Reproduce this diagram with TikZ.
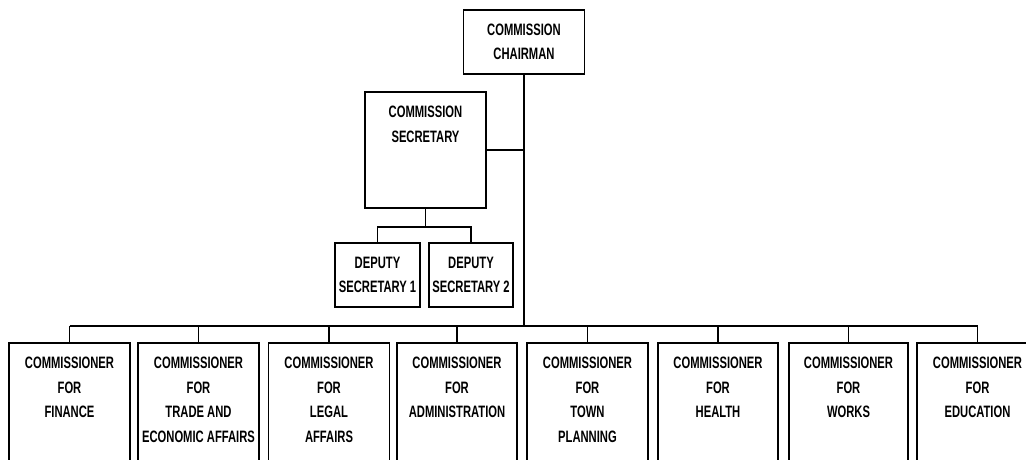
\documentclass[tikz,border=0pt]{standalone}
\usepackage{fontspec}
\setmainfont{Liberation Sans}[FakeStretch=0.68]
\newcommand{\ctext}[3]{\begin{minipage}[c][#2][c]{#1}\centering #3\end{minipage}}
\newcommand{\ttext}[3]{\begin{minipage}[c][#2][t]{#1}\centering\vspace*{14pt}#3\end{minipage}}
\tikzset{
  box/.style={draw, line width=1.2pt, inner sep=0pt, outer sep=0pt,
    font=\fontsize{16.5pt}{24.5pt}\selectfont\bfseries},
  conn/.style={line width=1.2pt}
}
\begin{document}
\begin{tikzpicture}[x=1pt,y=-1pt]
\clip (0,0) rectangle (1026,459);
\fill[white] (0,0) rectangle (1026,459);
% top
\node[box] (chair) at (524,42) {\ctext{121pt}{64pt}{COMMISSION\\CHAIRMAN}};
\node[box] (sec) at (425.5,150) {\ttext{121pt}{116pt}{COMMISSION\\SECRETARY}};
\node[box] (d1) at (377.5,275) {\ctext{85pt}{64pt}{DEPUTY\\SECRETARY 1}};
\node[box] (d2) at (471,275) {\ctext{84pt}{64pt}{DEPUTY\\SECRETARY 2}};
% bottom row
\node[box] (b1) at (69.5,406.5) {\ttext{121pt}{127pt}{COMMISSIONER\\FOR\\FINANCE}};
\node[box] (b2) at (198.5,406.5) {\ttext{121pt}{127pt}{COMMISSIONER\\FOR\\TRADE AND\\ECONOMIC AFFAIRS}};
\node[box] (b3) at (329,406.5) {\ttext{121pt}{127pt}{COMMISSIONER\\FOR\\LEGAL\\AFFAIRS}};
\node[box] (b4) at (457,406.5) {\ttext{120pt}{127pt}{COMMISSIONER\\FOR\\ADMINISTRATION}};
\node[box] (b5) at (587.5,406.5) {\ttext{121pt}{127pt}{COMMISSIONER\\FOR\\TOWN\\PLANNING}};
\node[box] (b6) at (718,406.5) {\ttext{120pt}{127pt}{COMMISSIONER\\FOR\\HEALTH}};
\node[box] (b7) at (848.5,406.5) {\ttext{119pt}{127pt}{COMMISSIONER\\FOR\\WORKS}};
\node[box] (b8) at (977.5,406.5) {\ttext{121pt}{127pt}{COMMISSIONER\\FOR\\EDUCATION}};
% connectors
\coordinate (bar) at (524,326);
\coordinate (dj) at (425.5,227);
\draw[conn] (chair.south) -- (bar);
\draw[conn] (sec.east) -- (sec.east -| chair.south);
\draw[conn] (sec.south) -- (dj);
\draw[conn] (d1.north) |- (dj) -| (d2.north);
\draw[conn] (b1.north |- bar) -- (b8.north |- bar);
\foreach \b in {b1,b2,b3,b4,b5,b6,b7,b8}
  \draw[conn] (\b.north) -- (\b.north |- bar);
\end{tikzpicture}
\end{document}
